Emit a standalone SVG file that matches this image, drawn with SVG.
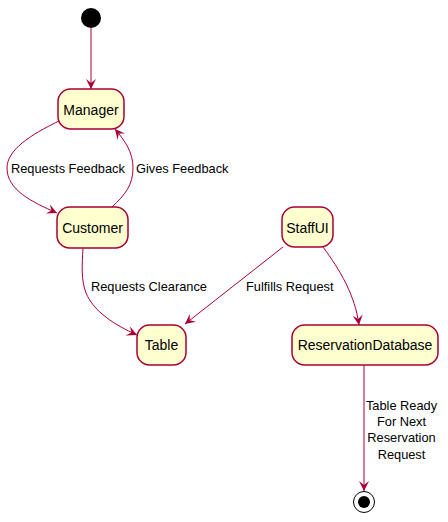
<svg xmlns="http://www.w3.org/2000/svg" width="448" height="522" viewBox="0 0 448 522">
<style>
.st{fill:#FEFECE;stroke:#A80036;stroke-width:1.5}
.nt{font-family:"Liberation Sans",Arial,sans-serif;font-size:14px;fill:#000;text-anchor:middle}
.lb{font-family:"Liberation Sans",Arial,sans-serif;font-size:12.8px;fill:#000}
.c{fill:none;stroke:#A80036;stroke-width:1}
</style>
<defs>
<marker id="ah" markerWidth="10" markerHeight="10" refX="10" refY="5" orient="auto" markerUnits="userSpaceOnUse">
<path d="M0,0 L10,5 L0,10 L4,5 Z" fill="#A80036"/>
</marker>
</defs>
<rect width="448" height="522" fill="#FFFFFF"/>
<g id="start"><circle cx="91" cy="18" r="10" fill="#000"/></g>
<g id="end"><circle cx="364" cy="502" r="10.5" fill="none" stroke="#000" stroke-width="1"/><circle cx="364" cy="502" r="6" fill="#000"/></g>
<g id="Manager"><rect class="st" x="58" y="89" width="66" height="40" rx="12.5"/><text class="nt" x="91" y="115">Manager</text></g>
<g id="Customer"><rect class="st" x="57" y="207" width="71" height="41" rx="12.5"/><text class="nt" x="92.5" y="233">Customer</text></g>
<g id="StaffUI"><rect class="st" x="282" y="207" width="51" height="40" rx="12.5"/><text class="nt" x="307.5" y="233">StaffUI</text></g>
<g id="Table"><rect class="st" x="137" y="325" width="49" height="40" rx="12.5"/><text class="nt" x="161.5" y="350">Table</text></g>
<g id="ReservationDatabase"><rect class="st" x="292" y="325" width="146" height="40" rx="12.5"/><text class="nt" x="365" y="350">ReservationDatabase</text></g>
<g id="connectors">
<path class="c" d="M91,28 L91,89" marker-end="url(#ah)"/>
<path class="c" d="M59,121 C30,135 7,150 7,168 C7,190 32,202 57,213" marker-end="url(#ah)"/>
<path class="c" d="M112,207 C125,195 133,185 133,168 C133,152 125,141 115,129" marker-end="url(#ah)"/>
<path class="c" d="M83,248 C82,265 81,280 86,293 C94,312 115,325 137,335" marker-end="url(#ah)"/>
<path class="c" d="M283,247 L185,324" marker-end="url(#ah)"/>
<path class="c" d="M323,247 C340,270 355,295 359,325" marker-end="url(#ah)"/>
<path class="c" d="M364,365 L364,491" marker-end="url(#ah)"/>
<text class="lb" x="11" y="173">Requests Feedback</text>
<text class="lb" x="136" y="173">Gives Feedback</text>
<text class="lb" x="91" y="291">Requests Clearance</text>
<text class="lb" x="246" y="291">Fulfills Request</text>
<text class="lb" text-anchor="middle" x="401.5" y="409.5">Table Ready</text>
<text class="lb" text-anchor="middle" x="401.5" y="426">For Next</text>
<text class="lb" text-anchor="middle" x="401.5" y="442">Reservation</text>
<text class="lb" text-anchor="middle" x="401.5" y="458.5">Request</text>
</g>
</svg>
